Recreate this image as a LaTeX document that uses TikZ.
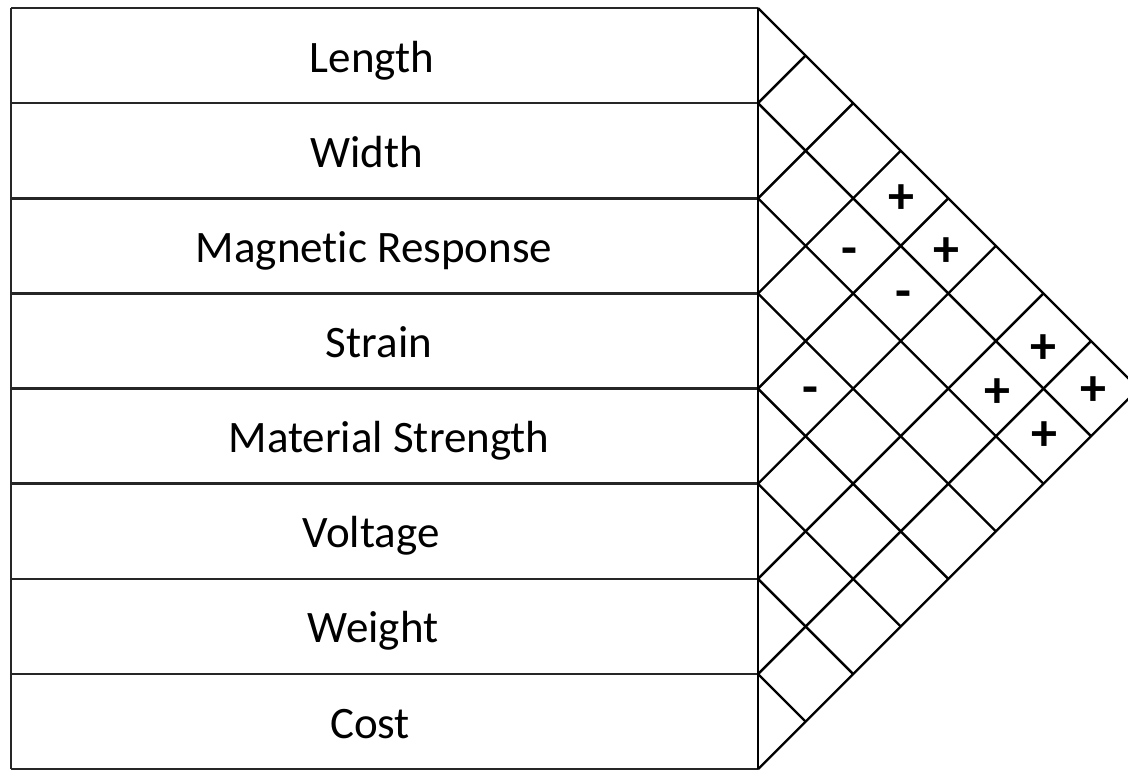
\documentclass[tikz,border=0pt]{standalone}
\usepackage{fontspec}
\setmainfont[Ligatures=NoCommon]{Carlito}
\begin{document}
\begin{tikzpicture}[x=1pt,y=-1pt,
  rule/.style={line width=2.6pt,draw=black!85},
  grid/.style={line width=2.4pt,draw=black},
  rowlabel/.style={anchor=base,inner sep=0pt,font=\fontsize{45}{54}\selectfont},
  sign/.style={anchor=center,inner sep=0pt,font=\fontsize{52}{62}\selectfont\bfseries}]
\useasboundingbox (0,0) rectangle (1128,769);
\clip (0,0) rectangle (1128,769);
\def\xl{11}\def\xr{758}\def\ytop{8}\def\rh{95.15}\def\hs{47.575}
% row boundary points on the left edge and on the vertical edge of the roof
\foreach \k in {0,...,8}{
  \coordinate (L\k) at (\xl,\ytop+\k*\rh);
  \coordinate (R\k) at (\xr,\ytop+\k*\rh);
}
% table of requirements
\draw[rule] (L0) -- (L8);
\foreach \k in {0,...,8}{ \draw[rule] (L\k) -- (R\k); }
\draw[grid] (R0) -- (R8);
% correlation roof: two families of 45 degree lines
\foreach \k in {0,...,8}{
  \pgfmathsetmacro{\dn}{(8-\k)*\hs}
  \pgfmathsetmacro{\up}{\k*\hs}
  \coordinate (D\k) at (\xr+\dn,\ytop+\k*\rh+\dn);
  \coordinate (U\k) at (\xr+\up,\ytop+\k*\rh-\up);
  \draw[grid] (R\k) -- (D\k);
  \draw[grid] (R\k) -- (U\k);
}
% row labels
\node[rowlabel] (t1) at (372,\ytop+0.5*\rh+16.5) {Length};
\node[rowlabel] (t2) at (367,\ytop+1.5*\rh+16.5) {Width};
\node[rowlabel] (t3) at (374,\ytop+2.5*\rh+16.5) {Magnetic Response};
\node[rowlabel] (t4) at (379,\ytop+3.5*\rh+16.5) {Strain};
\node[rowlabel] (t5) at (389,\ytop+4.5*\rh+16.5) {Material Strength};
\node[rowlabel] (t6) at (371,\ytop+5.5*\rh+16.5) {Voltage};
\node[rowlabel] (t7) at (373,\ytop+6.5*\rh+16.5) {Weight};
\node[rowlabel] (t8) at (370,\ytop+7.5*\rh+16.5) {Cost};
% correlation signs
\node[sign] (s1) at (901,199) {+};
\node[sign] (s2) at (849,257) {-};
\node[sign] (s3) at (946,252) {+};
\node[sign] (s4) at (903,300) {-};
\node[sign] (s5) at (1043,349) {+};
\node[sign] (s6) at (810,396) {-};
\node[sign] (s7) at (997,393) {+};
\node[sign] (s8) at (1093,391) {+};
\node[sign] (s9) at (1044,436) {+};
\end{tikzpicture}
\end{document}
